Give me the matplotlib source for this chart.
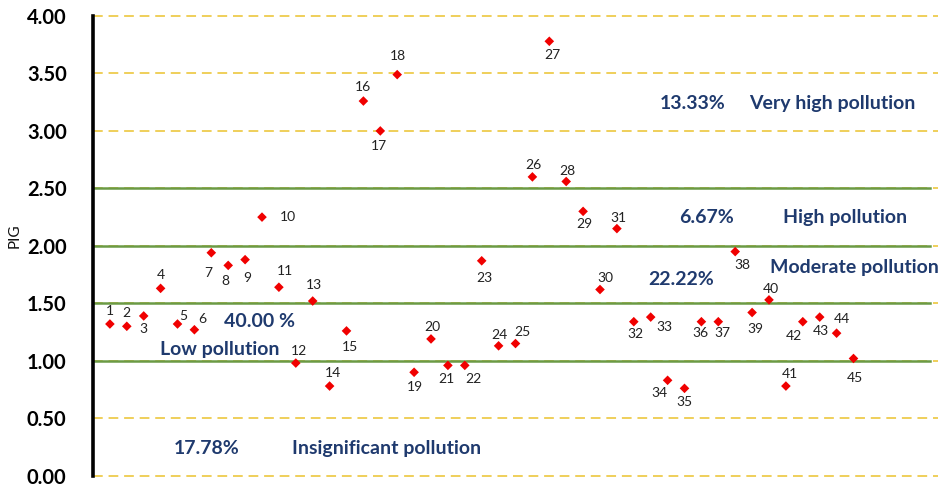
import matplotlib
matplotlib.use("Agg")
import matplotlib.pyplot as plt

plt.rcParams['font.family'] = ['Lato', 'DejaVu Sans']

# Sampling sites and their PIG values
site_ids = list(range(1, 46))
pig_values = [
    1.32, 1.30, 1.39, 1.63, 1.32, 1.27, 1.94, 1.83, 1.88, 2.25,
    1.64, 0.98, 1.52, 0.78, 1.26, 3.26, 3.00, 3.49, 0.90, 1.19,
    0.96, 0.96, 1.87, 1.13, 1.15, 2.60, 3.78, 2.56, 2.30, 1.62,
    2.15, 1.34, 1.38, 0.83, 0.76, 1.34, 1.34, 1.95, 1.42, 1.53,
    0.78, 1.34, 1.38, 1.24, 1.02,
]

# Where each site number sits relative to its marker (pixels)
label_offsets = {
    1: (0, 13), 2: (0, 13), 3: (0, -13), 4: (0, 13), 5: (6, 8), 6: (8, 11),
    7: (-3, -20), 8: (-3, -16), 9: (2, -18), 10: (26, 0), 11: (6, 16),
    12: (3, 12), 13: (1, 16), 14: (3, 13), 15: (3, -16), 16: (0, 14),
    17: (-1, -15), 18: (1, 19), 19: (1, -15), 20: (1, 12), 21: (-1, -14),
    22: (9, -14), 23: (3, -17), 24: (1, 11), 25: (7, 12), 26: (1, 12),
    27: (3, -14), 28: (1, 10), 29: (1, -13), 30: (5, 12), 31: (2, 11),
    32: (2, -12), 33: (14, -10), 34: (-8, -13), 35: (0, -14), 36: (-1, -11),
    37: (4, -11), 38: (7, -13), 39: (3, -16), 40: (2, 11), 41: (4, 12),
    42: (-9, -14), 43: (1, -14), 44: (5, 14), 45: (1, -20),
}

# Pollution class boundaries and band annotations
class_bounds = [1.0, 1.5, 2.0, 2.5]
y_ticks = [0.0, 0.5, 1.0, 1.5, 2.0, 2.5, 3.0, 3.5, 4.0]
band_texts = [
    ("13.33%", 33.55, 3.24), ("Very high pollution", 38.8, 3.24),
    ("6.67%", 34.7, 2.25), ("High pollution", 40.8, 2.25),
    ("Moderate pollution", 40.05, 1.81), ("22.22%", 32.85, 1.71),
    ("40.00 %", 7.75, 1.34), ("Low pollution", 3.96, 1.10),
    ("17.78%", 4.8, 0.24), ("Insignificant pollution", 11.78, 0.24),
]

W, H = 947, 498
fig = plt.figure(figsize=(W / 100, H / 100), dpi=100)
ax = fig.add_axes([93 / W, (H - 475.7) / H, (938 - 93) / W, (475.7 - 16) / H])

ax.set_xlim(0, 50)
ax.set_ylim(0, 4.0)

# Dashed yellow gridlines every 0.5
for yv in y_ticks:
    ax.axhline(yv, color='#EFCF5A', lw=1.4, ls=(0, (5, 3)), zorder=1, clip_on=False)

# Solid green class boundaries
for yv in class_bounds:
    ax.plot([0, 49.5], [yv, yv], color='#6B9A45', lw=1.8, zorder=2)

ax.scatter(site_ids, pig_values, marker='D', s=24, color='#F00000',
           edgecolors='none', zorder=4)

for sid, val in zip(site_ids, pig_values):
    dx, dy = label_offsets[sid]
    ax.annotate(str(sid), (sid, val), xytext=(dx, dy), textcoords='offset pixels',
                ha='center', va='center', fontsize=10, color='#222222', zorder=5)

for txt, xv, yv in band_texts:
    ax.text(xv, yv, txt, ha='left', va='center', fontsize=14,
            fontweight='bold', color='#1F3A6E', zorder=5)

ax.set_yticks(y_ticks)
ax.set_yticklabels([f"{v:.2f}" for v in y_ticks], fontsize=14.5, fontweight='bold')
ax.tick_params(axis='y', length=0, pad=19)
ax.set_xticks([])

for side in ('top', 'right', 'bottom'):
    ax.spines[side].set_visible(False)
ax.spines['left'].set_linewidth(2.6)
ax.spines['left'].set_color('black')

fig.text(15 / W, 1 - 236 / H, "PIG", rotation=90, ha='center', va='center',
         fontsize=11, color='#111111')

fig.savefig("out.png", dpi=100)
